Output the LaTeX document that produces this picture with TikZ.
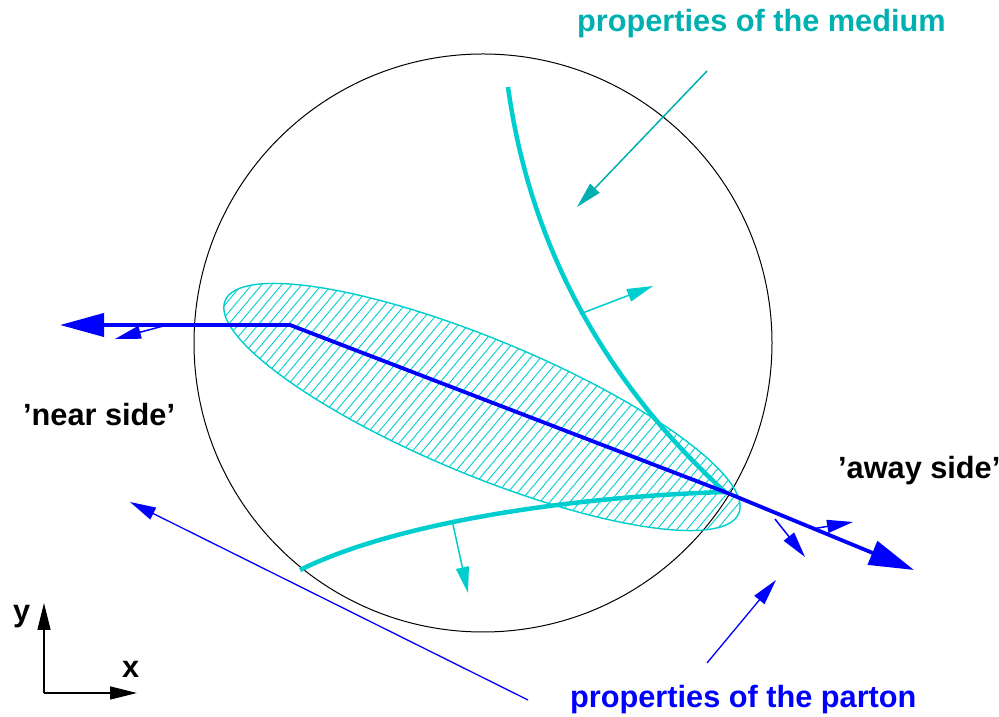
\documentclass[tikz,border=0pt]{standalone}
\usepackage{fontspec}
\setmainfont{Liberation Sans}
\usetikzlibrary{arrows.meta}
\definecolor{medtext}{RGB}{0,176,176}
\definecolor{cyanc}{RGB}{0,206,206}
\definecolor{pblue}{RGB}{0,0,255}
\tikzset{
  lbl/.style={font=\bfseries\fontsize{30.7}{36}\selectfont, inner sep=0pt, anchor=base west},
  bigtip/.style={{Triangle[length=44pt,width=23pt]}-{Triangle[length=45pt,width=25pt]}},
  smalltip/.style={-{Triangle[length=26pt,width=13pt]}},
  axtip/.style={-{Triangle[length=27pt,width=13pt]}},
  thinblue/.style={pblue, line width=1.5pt, smalltip},
  thincyan/.style={cyanc, line width=1.5pt, smalltip},
  curve/.style={cyanc, line width=4.5pt},
}
\begin{document}
\begin{tikzpicture}[x=1pt,y=1pt]
\useasboundingbox (0,0) rectangle (999,717);
% circle
\coordinate (C) at (483,374);
\draw[black, line width=1pt] (C) circle [radius=289];
% hatched ellipse
\coordinate (E) at (482,310);
\begin{scope}
  \clip[rotate around={-22.5:(E)}] (E) ellipse [x radius=278, y radius=68];
  \foreach \i in {-600,-590,...,800} \draw[cyanc, line width=0.9pt] (\i,0) -- ++(600,717);
\end{scope}
\draw[cyanc, line width=1.4pt, rotate around={-22.5:(E)}] (E) ellipse [x radius=278, y radius=68];
% cyan curves
\coordinate (V) at (725,225);
\coordinate (UT) at (508,630);
\coordinate (LT) at (300,147);
\draw[curve] (UT) .. controls (530,470) and (605,335) .. (V);
\draw[curve] (LT) .. controls (390,192) and (560,220) .. (V);
% small cyan arrows
\coordinate (ua0) at (580,403); \coordinate (ua1) at (653,431);
\coordinate (la0) at (452,197); \coordinate (la1) at (468,124);
\draw[thincyan] (ua0) -- (ua1);
\draw[thincyan] (la0) -- (la1);
% blue parton line
\coordinate (L) at (60,392);
\coordinate (K) at (290,392);
\coordinate (R) at (914,147);
\draw[pblue, line width=3.8pt, bigtip] (L) -- (K) -- (V) -- (R);
% small blue arrows
\coordinate (b1a) at (167,392); \coordinate (b1b) at (115,378);
\coordinate (b2a) at (775,198); \coordinate (b2b) at (805,160);
\coordinate (b3a) at (812,188); \coordinate (b3b) at (853,195);
\draw[thinblue] (b1a) -- (b1b);
\draw[thinblue] (b2a) -- (b2b);
\draw[thinblue] (b3a) -- (b3b);
% label arrows
\coordinate (m0) at (707,646); \coordinate (m1) at (577,510);
\draw[medtext, line width=1.5pt, smalltip] (m0) -- (m1);
\coordinate (p0) at (528,17); \coordinate (p1) at (130,215);
\coordinate (q0) at (707,54); \coordinate (q1) at (776,137);
\draw[thinblue, line width=1.3pt] (p0) -- (p1);
\draw[thinblue, line width=1.3pt] (q0) -- (q1);
% axes
\coordinate (O) at (44,24);
\coordinate (Ytip) at (44,114);
\coordinate (Xtip) at (137,24);
\draw[black, line width=1.3pt, axtip] (O) -- (Ytip);
\draw[black, line width=1.3pt, axtip] (O) -- (Xtip);
% labels
\node[lbl] (ylab) at (13,95) {y};
\node[lbl] (xlab) at (122,39) {x};
\node[lbl] (near) at (23,291) {’near side’};
\node[lbl] (away) at (838,238) {’away side’};
\node[lbl, text=medtext] (medium) at (577,685) {properties of the medium};
\node[lbl, text=pblue] (parton) at (570,9) {properties of the parton};
\end{tikzpicture}
\end{document}
